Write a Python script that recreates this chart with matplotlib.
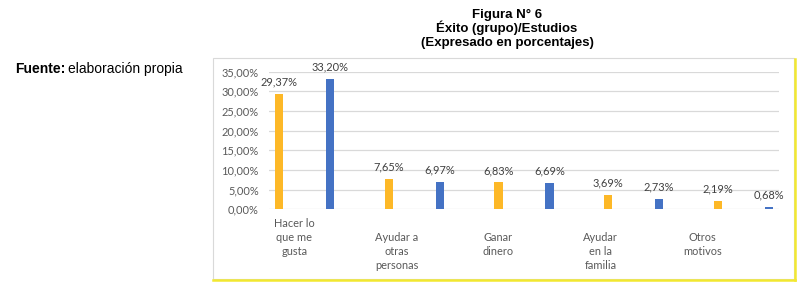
import matplotlib
matplotlib.use("Agg")
import matplotlib.pyplot as plt
from matplotlib.patches import Rectangle
from matplotlib.lines import Line2D

categories = ["Hacer lo\nque me\ngusta", "Ayudar a\notras\npersonas", "Ganar\ndinero",
              "Ayudar\nen la\nfamilia", "Otros\nmotivos"]
orange_vals = [29.37, 7.65, 6.83, 3.69, 2.19]
blue_vals = [33.20, 6.97, 6.69, 2.73, 0.68]
yticks = [0, 5, 10, 15, 20, 25, 30, 35]

ORANGE = "#FDB827"
BLUE = "#4472C4"
GRID = "#D9D9D9"
TICK_C = "#595959"
LABEL_C = "#404040"
FONT = "Lato"

W, H = 800, 291
fig = plt.figure(figsize=(W / 100, H / 100), dpi=100)

def fx(px):
    return px / W

def fy(py):
    return 1 - py / H

# chart box
fig.patches.append(Rectangle((fx(213.5), fy(279)), fx(793.5) - fx(213.5), fy(58.5) - fy(279),
                             transform=fig.transFigure, fill=False, edgecolor="#D9D9D9", lw=0.8))
fig.lines.append(Line2D([fx(213), fx(795)], [fy(280), fy(280)], transform=fig.transFigure,
                        color="#F2E830", lw=1.8))
fig.lines.append(Line2D([fx(794.5), fx(794.5)], [fy(280), fy(58.5)], transform=fig.transFigure,
                        color="#F2E830", lw=1.8))

ax = fig.add_axes([fx(269), fy(209.3), fx(779) - fx(269), fy(71.7) - fy(209.3)])
ax.set_xlim(-0.5, 9.5)
ax.set_ylim(0, 35)

n = len(categories)
step = 0.149
bw = 0.16
for i in range(n):
    off = (i - (n - 1) / 2) * step
    xo = 2 * i + off
    xb = 2 * i + 1 + off
    ax.bar(xo, orange_vals[i], width=bw, color=ORANGE, zorder=3)
    ax.bar(xb, blue_vals[i], width=bw, color=BLUE, zorder=3)
    for x, v in ((xo, orange_vals[i]), (xb, blue_vals[i])):
        ax.annotate(f"{v:.2f}%".replace(".", ","), xy=(x, v), xytext=(0, 8.6),
                    textcoords="offset points", ha="center", va="center",
                    fontsize=7.9, color=LABEL_C, family=FONT)

ax.set_yticks(yticks)
ax.set_yticklabels([f"{t:.2f}%".replace(".", ",") for t in yticks], family=FONT,
                   fontsize=7.9, color=TICK_C)
ax.tick_params(axis="y", length=0, pad=7.4)
ax.set_xticks([])
ax.yaxis.grid(True, color=GRID, lw=0.9, zorder=0)
for s in ax.spines.values():
    s.set_visible(False)
ax.set_facecolor("none")

for i, c in enumerate(categories):
    off_px = 9 if i == 0 else 23
    ax.annotate(c, xy=(2 * i, 0), xycoords=("data", "axes fraction"),
                xytext=(0, -off_px * 0.72), textcoords="offset points",
                ha="center", va="top", fontsize=7.9, color=TICK_C, family=FONT,
                linespacing=1.3, multialignment="center")

# titles
tf = "Liberation Sans"
for txt, yb in (("Figura N° 6", 17.8), ("Éxito (grupo)/Estudios", 32.3),
                ("(Expresado en porcentajes)", 46.3)):
    fig.text(fx(507), fy(yb), txt, ha="center", va="baseline", fontsize=9.5,
             fontweight="bold", family=tf, color="black")

t1 = fig.text(fx(15), fy(73.3), "Fuente:", ha="left", va="baseline", fontsize=10,
              fontweight="bold", family=tf, color="black")
r = fig.canvas.get_renderer()
bb = t1.get_window_extent(renderer=r)
fig.text(bb.x1 / W + fx(3), fy(73.3), "elaboración propia", ha="left", va="baseline",
         fontsize=10, family=tf, color="black")

fig.savefig("out.png", dpi=100)
